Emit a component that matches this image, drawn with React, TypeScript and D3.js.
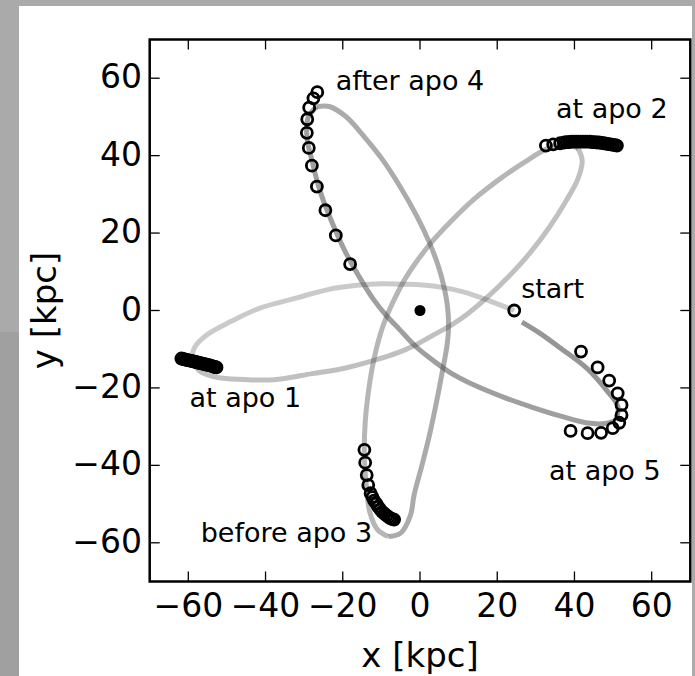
import React from 'react';
import * as d3 from 'd3';

type Pt = [number, number];

const xTicks = [-60, -40, -20, 0, 20, 40, 60];
const yTicks = [-60, -40, -20, 0, 20, 40, 60];
const xDomain: Pt = [-70, 70];
const yDomain: Pt = [-70, 70];

// orbit, split at each apocentre (kpc)
const orbitSeg0: Pt[] = [
  [24.4, 0.0], [17.5, 2.7], [11.2, 4.8], [6.2, 5.9], [0.7, 6.6], [-5.0, 6.8], [-9.8, 6.9],
  [-16.3, 6.5], [-23.9, 5.4], [-32.1, 3.2], [-41.8, 0.5], [-48.9, -2.8], [-54.9, -6.1],
  [-58.4, -9.6], [-59.1, -12.9],
];
const orbitSeg1: Pt[] = [
  [-59.1, -12.9], [-57.1, -15.6], [-52.4, -17.3], [-45.7, -17.8], [-37.8, -17.9], [-27.9, -16.3],
  [-19.5, -14.9], [-11.9, -12.9], [-5.7, -10.9], [-1.2, -8.9], [3.5, -6.3], [8.2, -3.7],
  [12.3, -0.9], [17.3, 3.3], [22.9, 8.7], [28.6, 15.0], [33.5, 21.5], [37.7, 28.1],
  [40.9, 34.0], [42.0, 38.8], [40.9, 41.9],
];
const orbitSeg2: Pt[] = [
  [40.9, 41.9], [37.8, 43.0], [33.0, 41.8], [27.2, 38.4], [20.7, 34.0], [14.3, 29.0],
  [8.1, 23.1], [2.8, 17.4], [-1.2, 12.2], [-3.9, 8.1], [-6.5, 3.2], [-8.8, -1.9],
  [-10.4, -6.5], [-12.0, -12.9], [-13.3, -20.6], [-14.2, -29.0], [-14.4, -37.6],
  [-13.9, -45.4], [-13.0, -52.1], [-11.0, -56.6], [-8.2, -58.4],
];
const orbitSeg3: Pt[] = [
  [-8.2, -58.4], [-5.0, -57.5], [-2.5, -53.0], [-1.5, -47.5], [0.5, -40.0], [2.5, -32.0],
  [4.3, -23.5], [5.8, -15.7], [7.0, -9.0], [7.4, -4.2], [7.1, 1.2], [6.1, 6.6],
  [4.8, 11.3], [2.5, 17.4], [-0.9, 24.5], [-5.1, 31.9], [-9.8, 39.1], [-14.7, 45.2],
  [-19.2, 50.1], [-23.5, 52.7], [-26.8, 52.6],
];
const orbitSeg4: Pt[] = [
  [-26.8, 52.6], [-28.9, 50.0], [-29.3, 45.0], [-27.9, 38.4], [-25.9, 30.9], [-22.8, 22.8],
  [-19.3, 15.1], [-15.5, 8.3], [-12.0, 2.8], [-8.9, -1.1], [-5.2, -5.0], [-1.5, -8.9],
  [2.3, -12.1], [7.6, -15.9], [14.3, -19.4], [21.9, -22.5], [29.1, -25.0], [36.5, -27.3],
  [43.0, -29.0], [47.9, -29.2], [50.6, -28.4],
];
const orbitSeg5: Pt[] = [
  [50.6, -28.4], [51.3, -25.0], [48.4, -20.7], [43.3, -15.0], [36.5, -9.8], [31.1, -5.9], [26.4, -3.0],
];
const orbitSegments = [orbitSeg0, orbitSeg1, orbitSeg2, orbitSeg3, orbitSeg4, orbitSeg5];
const segmentAlpha = [0.3, 0.36, 0.42, 0.48, 0.55, 0.6];

// snapshot positions (kpc)
const startPoint: Pt[] = [[24.4, 0.0]];
const apo1Points: Pt[] = [
  [-61.8, -12.4], [-61.4, -12.5], [-61.0, -12.6], [-60.6, -12.7], [-60.2, -12.8], [-59.8, -12.9],
  [-59.3, -13.0], [-58.9, -13.1], [-58.5, -13.2], [-58.1, -13.3], [-57.7, -13.4], [-57.3, -13.5],
  [-56.8, -13.6], [-56.4, -13.7], [-56.0, -13.8], [-55.6, -13.9], [-55.2, -14.0], [-54.8, -14.1],
  [-54.4, -14.2], [-54.0, -14.3], [-53.5, -14.5], [-53.1, -14.6], [-52.7, -14.7],
];
const apo2Points: Pt[] = [
  [32.6, 42.6], [34.5, 42.9], [36.3, 43.2], [37.4, 43.4], [38.0, 43.5], [38.6, 43.5], [39.2, 43.6],
  [39.8, 43.6], [40.4, 43.6], [41.0, 43.6], [41.6, 43.6], [42.2, 43.6], [42.8, 43.6], [43.4, 43.6],
  [44.0, 43.6], [44.6, 43.5], [45.2, 43.5], [45.8, 43.4], [46.4, 43.4], [47.0, 43.3], [47.6, 43.2],
  [48.2, 43.1], [48.8, 43.0], [49.4, 42.9], [50.0, 42.8], [50.6, 42.7], [51.0, 42.6],
];
const apo3Points: Pt[] = [
  [-14.4, -36.0], [-14.2, -39.3], [-13.8, -42.5], [-13.4, -45.1], [-12.8, -47.2], [-12.3, -48.2],
  [-11.9, -49.1], [-11.3, -49.9], [-10.8, -50.7], [-10.3, -51.4], [-9.8, -52.0], [-9.2, -52.5],
  [-8.6, -53.0], [-8.1, -53.4], [-7.6, -53.7], [-7.1, -53.9], [-6.7, -54.0],
];
const apo4Points: Pt[] = [
  [-26.6, 56.4], [-27.6, 54.8], [-28.7, 52.4], [-29.2, 49.4], [-29.3, 45.9], [-28.8, 42.0],
  [-28.0, 37.4], [-26.7, 32.0], [-24.5, 25.9], [-21.8, 19.4], [-18.1, 12.0],
];
const apo5Points: Pt[] = [
  [41.7, -10.6], [46.0, -14.7], [49.0, -18.1], [51.2, -21.4], [52.2, -24.4], [52.2, -27.0],
  [51.6, -29.0], [49.9, -30.4], [46.9, -31.6], [43.4, -31.7], [39.0, -31.1],
];
const snapshotSets = [startPoint, apo1Points, apo2Points, apo3Points, apo4Points, apo5Points];
const centre: Pt = [0, 0];

const labelTexts = ['start', 'at apo 1', 'at apo 2', 'before apo 3', 'after apo 4', 'at apo 5'];
const labelAnchors: Pt[] = [[26.2, 3.2], [-59.7, -25.0], [35.2, 49.7], [-56.8, -59.7], [-21.8, 57.0], [33.4, -43.8]];

export default function App() {
  const W = 695;
  const H = 676;
  const x = d3.scaleLinear().domain(xDomain).range([149.7, 690.3]);
  const y = d3.scaleLinear().domain(yDomain).range([581.5, 39.5]);
  const line = d3
    .line<Pt>()
    .x((d) => x(d[0]))
    .y((d) => y(d[1]))
    .curve(d3.curveCatmullRom.alpha(0.5));

  const left = x(xDomain[0]);
  const right = x(xDomain[1]);
  const top = y(yDomain[1]);
  const bottom = y(yDomain[0]);
  const font = '"DejaVu Sans", sans-serif';
  const tickLen = 10;

  return (
    <svg
      width={W}
      height={H}
      style={{ position: 'absolute', left: 0, top: 0, display: 'block' }}
      xmlns="http://www.w3.org/2000/svg"
    >
      <rect x={0} y={0} width={W} height={H} fill="#aaaaaa" />
      <rect x={0} y={332} width={19} height={H - 332} fill="#a0a0a0" />
      <rect x={19} y={6} width={673} height={H - 6} fill="#ffffff" />

      <defs>
        <clipPath id="plotclip">
          <rect x={left} y={top} width={right - left} height={bottom - top} />
        </clipPath>
      </defs>

      <g clipPath="url(#plotclip)">
        {orbitSegments.map((seg, i) => (
          <path
            key={'seg' + i}
            d={line(seg) || ''}
            fill="none"
            stroke="#505050"
            strokeOpacity={segmentAlpha[i]}
            strokeWidth={5}
            strokeLinecap="butt"
          />
        ))}
        <circle cx={x(centre[0])} cy={y(centre[1])} r={5.5} fill="#000" />
        {snapshotSets.map((set, i) =>
          set.map((p, j) => (
            <circle
              key={'c' + i + '_' + j}
              cx={x(p[0])}
              cy={y(p[1])}
              r={5.5}
              fill="none"
              stroke="#000"
              strokeWidth={2.8}
            />
          ))
        )}
      </g>

      {xTicks.map((t) => (
        <g key={'xt' + t}>
          <line x1={x(t)} x2={x(t)} y1={bottom} y2={bottom - tickLen} stroke="#000" strokeWidth={1.3} />
          <line x1={x(t)} x2={x(t)} y1={top} y2={top + tickLen} stroke="#000" strokeWidth={1.3} />
          <text x={x(t)} y={617} fontFamily={font} fontSize={33} textAnchor="middle" fill="#000">
            {t < 0 ? '\u2212' + Math.abs(t) : String(t)}
          </text>
        </g>
      ))}
      {yTicks.map((t) => (
        <g key={'yt' + t}>
          <line x1={left} x2={left + tickLen} y1={y(t)} y2={y(t)} stroke="#000" strokeWidth={1.3} />
          <line x1={right} x2={right - tickLen} y1={y(t)} y2={y(t)} stroke="#000" strokeWidth={1.3} />
          <text x={142} y={y(t) + 10} fontFamily={font} fontSize={33} textAnchor="end" fill="#000">
            {t < 0 ? '\u2212' + Math.abs(t) : String(t)}
          </text>
        </g>
      ))}

      <rect x={left} y={top} width={right - left} height={bottom - top} fill="none" stroke="#000" strokeWidth={2.5} />

      {labelTexts.map((txt, i) => (
        <text
          key={'lab' + i}
          x={x(labelAnchors[i][0])}
          y={y(labelAnchors[i][1])}
          fontFamily={font}
          fontSize={27}
          fill="#000"
        >
          {txt}
        </text>
      ))}

      <text x={(left + right) / 2} y={667} fontFamily={font} fontSize={34} textAnchor="middle" fill="#000">
        x [kpc]
      </text>
      <text
        transform={`translate(56, ${(top + bottom) / 2}) rotate(-90)`}
        fontFamily={font}
        fontSize={34}
        textAnchor="middle"
        fill="#000"
      >
        y [kpc]
      </text>
    </svg>
  );
}
